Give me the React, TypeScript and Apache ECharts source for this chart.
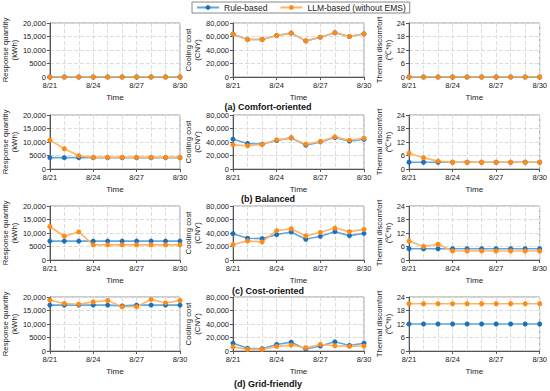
import React, { useEffect, useRef } from "react";
import * as echarts from "echarts";

const days = ["8/21", "8/22", "8/23", "8/24", "8/25", "8/26", "8/27", "8/28", "8/29", "8/30"];

const scenarios = ["(a) Comfort-oriented", "(b) Balanced", "(c) Cost-oriented", "(d) Grid-friendly"];
const seriesNames = ["Rule-based", "LLM-based (without EMS)"];

const metricNames = ["Response quantity\n(kWh)", "Cooling cost\n(CNY)", "Thermal discomfort\n(\u2103*h)"];
const metricMax = [20000, 80000, 24];
const metricInterval = [5000, 20000, 6];
const responseTicks = ["0", "5000", "10,000", "15,000", "20,000"];
const costTicks = ["0", "20,000", "40,000", "60,000", "80,000"];
const discomfortTicks = ["0", "6", "12", "18", "24"];
const tickLabels = [responseTicks, costTicks, discomfortTicks];

// (a) Comfort-oriented
const aRuleResponse = [0, 0, 0, 0, 0, 0, 0, 0, 0, 0];
const aLlmResponse = [0, 0, 0, 0, 0, 0, 0, 0, 0, 0];
const aRuleCost = [63500, 55500, 55500, 61500, 65000, 53500, 59000, 65500, 60000, 64000];
const aLlmCost = [63500, 55500, 55500, 61500, 65000, 53500, 59000, 65500, 60000, 64000];
const aRuleDiscomfort = [0, 0, 0, 0, 0, 0, 0, 0, 0, 0];
const aLlmDiscomfort = [0, 0, 0, 0, 0, 0, 0, 0, 0, 0];

// (b) Balanced
const bRuleResponse = [4200, 4200, 4200, 4200, 4200, 4200, 4200, 4200, 4200, 4200];
const bLlmResponse = [10700, 7500, 4900, 4300, 4300, 4300, 4300, 4300, 4300, 4300];
const bRuleCost = [44200, 37800, 36800, 42200, 46100, 35300, 40200, 46600, 41200, 44000];
const bLlmCost = [35800, 34400, 36300, 43200, 46100, 36800, 40700, 47600, 42700, 45600];
const bRuleDiscomfort = [3, 3, 3, 3, 3, 3, 3, 3, 3, 3];
const bLlmDiscomfort = [7, 5, 3.5, 3, 3, 3, 3, 3, 3, 3];

// (c) Cost-oriented
const cRuleResponse = [7000, 7000, 7000, 7000, 7000, 7000, 7000, 7000, 7000, 7000];
const cLlmResponse = [12400, 8800, 10400, 5600, 5600, 5600, 5600, 5600, 5600, 5600];
const cRuleCost = [39000, 32200, 31700, 37600, 41500, 30700, 35100, 42000, 36100, 39500];
const cLlmCost = [22900, 28300, 26800, 43400, 46300, 35600, 41000, 47300, 42000, 45400];
const cRuleDiscomfort = [5, 5, 5, 5, 5, 5, 5, 5, 5, 5];
const cLlmDiscomfort = [8.4, 6, 7, 4, 4, 4, 4, 4, 4, 4];

// (d) Grid-friendly
const dRuleResponse = [17000, 17000, 17000, 17000, 17000, 16700, 17000, 17000, 17000, 17000];
const dLlmResponse = [18900, 17600, 17300, 18200, 18700, 16400, 16400, 19100, 17800, 18700];
const dRuleCost = [11600, 3900, 3400, 9700, 13100, 2900, 7300, 13600, 8200, 11600];
const dLlmCost = [6300, 2400, 2400, 6800, 8700, 4800, 9700, 7800, 6800, 7300];
const dRuleDiscomfort = [12, 12, 12, 12, 12, 12, 12, 12, 12, 12];
const dLlmDiscomfort = [21, 21, 21, 21, 21, 21, 21, 21, 21, 21];

const ruleData = [
  [aRuleResponse, aRuleCost, aRuleDiscomfort],
  [bRuleResponse, bRuleCost, bRuleDiscomfort],
  [cRuleResponse, cRuleCost, cRuleDiscomfort],
  [dRuleResponse, dRuleCost, dRuleDiscomfort],
];
const llmData = [
  [aLlmResponse, aLlmCost, aLlmDiscomfort],
  [bLlmResponse, bLlmCost, bLlmDiscomfort],
  [cLlmResponse, cLlmCost, cLlmDiscomfort],
  [dLlmResponse, dLlmCost, dLlmDiscomfort],
];

const FONT = "Liberation Sans";
const colLeft = [49, 233, 409];
const colNameGap = [29, 30, 15];
const rowTop = [23, 115, 206, 297];
const plotW = 131;
const plotH = 54;
const subtitleY = [107, 199, 291, 384];

const blueLine = "#62a8dc";
const blueDot = "#1f70b8";
const orangeLine = "#ffb566";
const orangeDot = "#ff8a14";

export default function App() {
  const ref = useRef<HTMLDivElement>(null);
  useEffect(() => {
    if (!ref.current) return;
    const chart = echarts.init(ref.current, undefined, { renderer: "svg" });
    const grid: any[] = [];
    const xAxis: any[] = [];
    const yAxis: any[] = [];
    const series: any[] = [];
    for (let r = 0; r < 4; r++) {
      for (let c = 0; c < 3; c++) {
        const idx = r * 3 + c;
        grid.push({
          left: colLeft[c],
          top: rowTop[r],
          width: plotW,
          height: plotH,
          show: true,
          borderColor: "#9a9a9a",
          borderWidth: 1,
        });
        xAxis.push({
          type: "category",
          gridIndex: idx,
          data: days,
          boundaryGap: false,
          name: "Time",
          nameLocation: "middle",
          nameGap: 16,
          nameTextStyle: { fontFamily: FONT, fontSize: 8, color: "#222" },
          axisLine: { lineStyle: { color: "#555", width: 1 } },
          axisTick: { show: true, interval: 2, length: 3, lineStyle: { color: "#555" } },
          axisLabel: { interval: 2, fontFamily: FONT, fontSize: 7.5, color: "#222", margin: 4 },
          splitLine: { show: true, interval: 0, lineStyle: { color: "#dcdcdc", type: "dashed", width: 1 } },
        });
        const ticks = tickLabels[c];
        const iv = metricInterval[c];
        yAxis.push({
          type: "value",
          gridIndex: idx,
          min: 0,
          max: metricMax[c],
          interval: iv,
          name: metricNames[c],
          nameLocation: "middle",
          nameGap: colNameGap[c],
          nameTextStyle: { fontFamily: FONT, fontSize: 7.8, color: "#222", lineHeight: 9 },
          axisLine: { show: true, lineStyle: { color: "#555", width: 1 } },
          axisTick: { show: true, length: 3, lineStyle: { color: "#555" } },
          axisLabel: {
            fontFamily: FONT,
            fontSize: 7.5,
            color: "#222",
            margin: 4,
            formatter: (v: number) => ticks[Math.round(v / iv)] ?? String(v),
          },
          splitLine: { show: true, lineStyle: { color: "#dcdcdc", type: "dashed", width: 1 } },
        });
        series.push({
          name: seriesNames[0],
          type: "line",
          xAxisIndex: idx,
          yAxisIndex: idx,
          data: ruleData[r][c],
          symbol: "circle",
          symbolSize: 5,
          lineStyle: { color: blueLine, width: 1.6 },
          itemStyle: { color: blueDot },
        });
        series.push({
          name: seriesNames[1],
          type: "line",
          xAxisIndex: idx,
          yAxisIndex: idx,
          data: llmData[r][c],
          symbol: "circle",
          symbolSize: 5,
          lineStyle: { color: orangeLine, width: 1.6 },
          itemStyle: { color: orangeDot },
        });
      }
    }
    chart.setOption({
      animation: false,
      backgroundColor: "#fff",
      legend: {
        top: 2,
        left: 192,
        data: seriesNames,
        itemWidth: 22,
        itemHeight: 6,
        itemGap: 12,
        padding: [1, 4],
        borderColor: "#888",
        borderWidth: 1,
        borderRadius: 0,
        textStyle: { fontFamily: FONT, fontSize: 8.5, color: "#222" },
      },
      grid,
      xAxis,
      yAxis,
      series,
      graphic: scenarios.map((s, i) => ({
        type: "text",
        x: 268,
        y: subtitleY[i],
        style: {
          text: s,
          fontFamily: FONT,
          fontSize: 9,
          fontWeight: "bold",
          fill: "#111",
          align: "center",
          verticalAlign: "middle",
        },
      })),
    });
    return () => chart.dispose();
  }, []);
  return <div ref={ref} style={{ width: 550, height: 391, position: "absolute", left: 0, top: 0 }} />;
}
